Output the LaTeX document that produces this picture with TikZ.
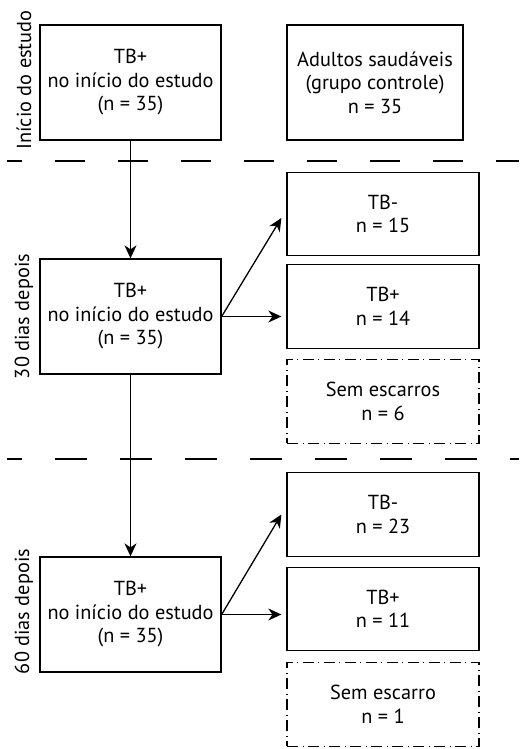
\documentclass[tikz,border=0pt]{standalone}
\usepackage{fontspec}
\setmainfont{PT Sans}
\usetikzlibrary{arrows.meta,calc}
\begin{document}
\begin{tikzpicture}[x=1pt,y=-1pt,
  txt/.style={font=\fontsize{20.3}{23.5}\selectfont},
  box/.style={txt,draw,line width=1.3pt,inner sep=0pt,align=center},
  bigbox/.style={box,minimum width=181pt,minimum height=115pt},
  smallbox/.style={box,minimum width=192pt,minimum height=83.5pt},
  dbox/.style={smallbox,dash pattern=on 11pt off 4.75pt on 0.5pt off 4.75pt},
  arr/.style={line width=1.3pt,-{Stealth[length=13pt,width=12pt,inset=4pt]}},
  sep/.style={line width=1.4pt},
  side/.style={txt,rotate=90,inner sep=0pt}]
\useasboundingbox (0,0) rectangle (519,749);
% boxes
\node[bigbox] (b1) at (130.5,82.5) {TB+\\no início do estudo\\(n = 35)};
\node[box,minimum width=176pt,minimum height=115pt] (ctrl) at (375,82.5) {Adultos saudáveis\\(grupo controle)\\n = 35};
\node[bigbox] (b2) at (130.5,316.5) {TB+\\no início do estudo\\(n = 35)};
\node[smallbox] (m1) at (383,214) {TB-\\n = 15};
\node[smallbox] (m2) at (383,306.5) {TB+\\n = 14};
\node[dbox] (m3) at (383,401.5) {Sem escarros\\n = 6};
\node[bigbox] (b3) at (130.5,614.5) {TB+\\no início do estudo\\(n = 35)};
\node[smallbox] (l1) at (383,514.5) {TB-\\n = 23};
\node[smallbox] (l2) at (383,609) {TB+\\n = 11};
\node[dbox] (l3) at (383,704.5) {Sem escarro\\n = 1};
% side labels
\node[side] (s1) at (24,80) {Início do estudo};
\node[side] (s2) at (24,316.5) {30 dias depois};
\node[side] (s3) at (24,611.5) {60 dias depois};
% separators
\draw[sep,dash pattern=on 30pt off 33pt,dash phase=15pt] (7,161) -- (519,161);
\draw[sep,dash pattern=on 32pt off 33pt,dash phase=17pt] (7,459) -- (519,459);
% arrows
\draw[arr] (b1.south) -- (b2.north);
\draw[arr] (b2.south) -- (b3.north);
\draw[arr] (b2.east) -- ($(m1.west)+(-5,4)$);
\draw[arr] (b2.east) -- ($(m2.west |- b2.east)+(-5,0)$);
\draw[arr] (b3.east) -- ($(l1.west)+(-5,0)$);
\draw[arr] (b3.east) -- ($(l2.west |- b3.east)+(-5,0)$);
\end{tikzpicture}
\end{document}
